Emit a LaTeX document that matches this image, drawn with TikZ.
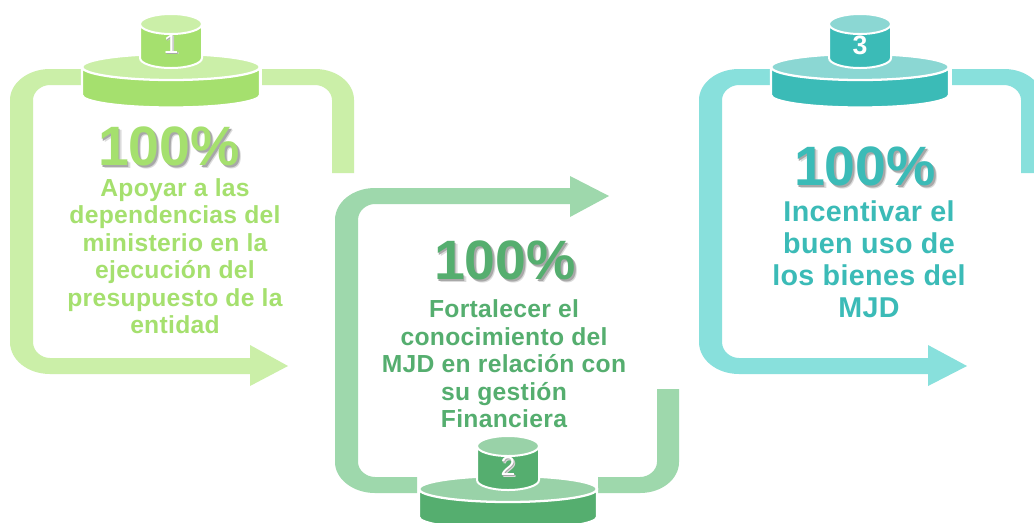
\documentclass[tikz,border=0pt]{standalone}
\usepackage{fontspec}
\setmainfont{Liberation Sans}
\newfontfamily\spacedfont[LetterSpace=1.2]{Liberation Sans}
\definecolor{lightA}{HTML}{CBEFA8}\definecolor{darkA}{HTML}{A5E06E}
\definecolor{lightB}{HTML}{9ED8AC}\definecolor{darkB}{HTML}{55AE6F}\definecolor{topB}{HTML}{99D2A8}
\definecolor{lightC}{HTML}{88E0DC}\definecolor{darkC}{HTML}{3BBBB7}\definecolor{topC}{HTML}{8BD7D3}
\newcommand{\softshadow}[1]{\leavevmode
  \rlap{\hspace{.055em}\raisebox{-.055em}{\textcolor{black!14}{#1}}}%
  \rlap{\hspace{.03em}\raisebox{-.03em}{\textcolor{black!34}{#1}}}#1}
% band in local coordinates: #1 colour, #2 #3 gap ends, #4 head start, #5 tip
\newcommand{\bandshape}[5]{%
  \fill[#1] (#2,69) -- (50,69) .. controls (28,69) and (10,83) .. (10,100)
    -- (10,342) .. controls (10,360) and (28,374) .. (50,374)
    -- (#4,374) -- (#4,386) -- (#5,366) -- (#4,345) -- (#4,358) -- (50,358)
    .. controls (41,358) and (33,351) .. (33,342)
    -- (33,100) .. controls (33,92) and (41,85) .. (50,85) -- (#2,85) -- cycle;
  \fill[#1] (#3,69) -- (315,69) .. controls (337,69) and (354,83) .. (354,100)
    -- (354,173) -- (332,173) -- (332,100)
    .. controls (332,92) and (324,85) .. (315,85) -- (#3,85) -- cycle;}
% stacked cylinders: #1 x centre, #2 y shift, #3 side, #4 top, #5 node name, #6 number text
\newcommand{\stackcyl}[6]{%
  \begin{scope}[shift={(#1,#2)}]
    \draw[white,line width=1.7pt,fill=#3] (-89,67) -- (-89,95)
      arc[start angle=180,end angle=0,x radius=89,y radius=12.5] -- (89,67) -- cycle;
    \draw[white,line width=1.7pt,fill=#4] (0,67) ellipse [x radius=89,y radius=13];
    \draw[white,line width=1.5pt,fill=#3] (-31,24) -- (-31,58)
      arc[start angle=180,end angle=0,x radius=31,y radius=10] -- (31,24) -- cycle;
    \draw[white,line width=1.5pt,fill=#4] (0,24) ellipse [x radius=31,y radius=10];
    \node[numtext] (#5) at (0,45) {#6};
  \end{scope}}
\tikzset{
  numtext/.style={text=white,inner sep=0pt,font=\fontsize{20}{22}\selectfont},
  bigpct/.style={inner sep=0pt,font=\fontsize{41.6}{44}\selectfont\bfseries},
  bodytext/.style={inner sep=0pt,align=center},
}
\begin{document}
\begin{tikzpicture}[x=.75pt,y=-.75pt]
\clip (0,0) rectangle (1034,522);
\fill[white] (0,0) rectangle (1034,522);
\begin{scope}\bandshape{lightA}{81}{262}{250}{288}\end{scope}
\begin{scope}[shift={(325,562)},yscale=-1]\bandshape{lightB}{92}{273}{245}{284}\end{scope}
\begin{scope}[shift={(689,0)}]\bandshape{lightC}{81}{263}{239}{278}\end{scope}

\stackcyl{171}{0}{darkA}{lightA}{numA}{\softshadow{1}}
\stackcyl{508}{422}{darkB}{topB}{numB}{\softshadow{2}}
\stackcyl{860}{0}{darkC}{topC}{numC}{\bfseries 3}

\node[bigpct,text=darkA] (pctA) at (169,148) {\softshadow{100\%}};
\node[bigpct,text=darkB] (pctB) at (505,262) {\softshadow{100\%}};
\node[bigpct,text=darkC] (pctC) at (865,168) {\softshadow{100\%}};

\node[bodytext,text=darkA,font=\spacedfont\fontsize{18.5}{20.6}\selectfont\bfseries] (txtA) at (175,256)
  {Apoyar a las\\dependencias del\\ministerio en la\\ejecución del\\presupuesto de la\\entidad};
\node[bodytext,text=darkB,font=\spacedfont\fontsize{18.5}{20.6}\selectfont\bfseries] (txtB) at (504,364)
  {Fortalecer el\\conocimiento del\\MJD en relación con\\su gestión\\Financiera};
\node[bodytext,text=darkC,font=\spacedfont\fontsize{21.5}{24}\selectfont\bfseries] (txtC) at (869,259)
  {Incentivar el\\buen uso de\\los bienes del\\MJD};
\end{tikzpicture}
\end{document}
